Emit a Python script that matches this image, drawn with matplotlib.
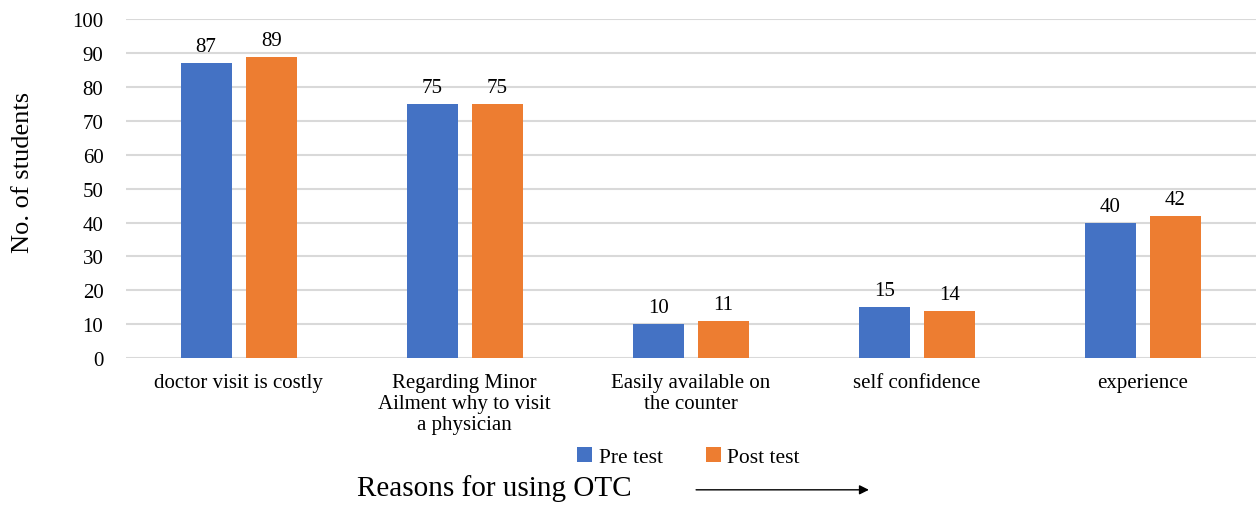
import matplotlib.pyplot as plt
import numpy as np

# reasons for OTC use, pre and post test counts
reasons = ['doctor visit is costly',
           'Regarding Minor\nAilment why to visit\na physician',
           'Easily available on\nthe counter',
           'self confidence',
           'experience']
pre_test = [87, 75, 10, 15, 40]
post_test = [89, 75, 11, 14, 42]

plt.rcParams['font.family'] = ['Liberation Serif', 'DejaVu Serif']

fig = plt.figure(figsize=(12.56, 5.06), dpi=100)
ax = fig.add_axes([0.100, 0.2905, 0.9, 0.6695])

x = np.arange(len(reasons))
w = 0.225
off = 0.144
b1 = ax.bar(x - off, pre_test, w, color='#4472C4', label='Pre test', zorder=3)
b2 = ax.bar(x + off, post_test, w, color='#ED7D31', label='Post test', zorder=3)

for bars in (b1, b2):
    ax.bar_label(bars, padding=5, fontsize=15)

ax.set_xlim(-0.5, 4.5)
ax.set_ylim(0, 100)
ax.set_yticks(range(0, 101, 10))
ax.yaxis.grid(True, color='#d9d9d9', linewidth=1.5, zorder=0)
for s in ax.spines.values():
    s.set_visible(False)
ax.tick_params(axis='both', length=0, labelsize=15)
ax.tick_params(axis='y', pad=16)
ax.set_xticks(x)
ax.set_xticklabels(reasons, linespacing=1.12)
ax.tick_params(axis='x', pad=11)

ax.set_ylabel('No. of students', fontsize=19)
ax.yaxis.set_label_coords(-0.081, 0.55)

fig.legend(loc='center', bbox_to_anchor=(0.548, 0.095), ncol=2, frameon=False,
           fontsize=15.5, handlelength=0.7, handleheight=0.7, handletextpad=0.3,
           columnspacing=2.0)

# axis title along the bottom with an arrow pointing right
fig.text(0.284, 0.034, 'Reasons for using OTC', fontsize=21, ha='left', va='center')
fig.add_artist(plt.Annotation('', xy=(0.694, 0.03), xytext=(0.552, 0.03),
                              xycoords='figure fraction',
                              arrowprops=dict(arrowstyle='-|>', color='black',
                                              lw=1.0, mutation_scale=14)))

fig.savefig('out.png', dpi=100)
